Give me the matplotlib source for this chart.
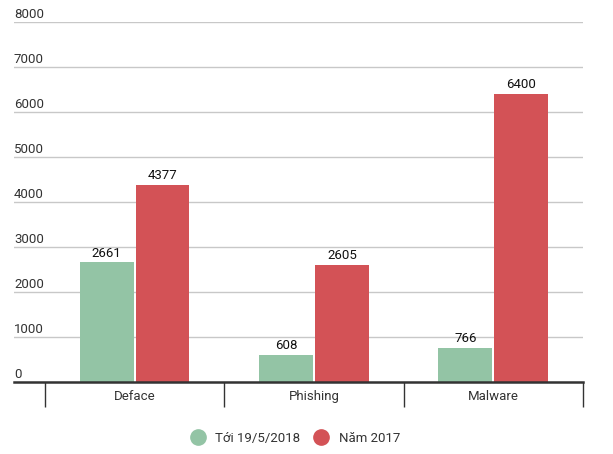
import matplotlib.pyplot as plt
import matplotlib.transforms as mtransforms
from matplotlib.lines import Line2D
import numpy as np

plt.rcParams['font.family'] = ['Roboto', 'DejaVu Sans']

# data
categories = ["Deface", "Phishing", "Malware"]
series_names = ["Tới 19/5/2018", "Năm 2017"]
values_2018 = [2661, 608, 766]
values_2017 = [4377, 2605, 6400]
yticks = [0, 1000, 2000, 3000, 4000, 5000, 6000, 7000, 8000]

green = "#93c4a5"
red = "#d35256"

fig = plt.figure(figsize=(6.13, 4.54), dpi=100)
ax = fig.add_axes([0.0228, 0.1586, 0.9282, 0.7929])

x = np.arange(len(categories))
w = 0.3
gap = 0.006
b1 = ax.bar(x - w / 2 - gap, values_2018, w, color=green, zorder=3)
b2 = ax.bar(x + w / 2 + gap, values_2017, w, color=red, zorder=3)

for bars, vals in ((b1, values_2018), (b2, values_2017)):
    for r, v in zip(bars, vals):
        ax.text(r.get_x() + r.get_width() / 2, v + 60, str(v),
                ha="center", va="bottom", fontsize=9.5, color="#111111")

# left padding before the first category
ax.set_xlim(-0.5 - 31 / 179.5, len(categories) - 0.5)
ax.set_ylim(0, 8000)

# gridlines with labels sitting on top of them
ax.set_yticks(yticks)
ax.tick_params(axis="y", length=0, labelleft=False)
ax.yaxis.grid(True, color="#c8c8c8", linewidth=1, zorder=0)
trans = mtransforms.blended_transform_factory(ax.transAxes, ax.transData)
for t in yticks:
    ax.text(0.0, t + 20, str(t), transform=trans, ha="left", va="bottom",
            fontsize=9.5, color="#333333")

# category labels and separators
ax.set_xticks(x)
ax.set_xticklabels(categories, fontsize=9.5, color="#333333")
ax.tick_params(axis="x", which="major", length=0, pad=6)
ax.set_xticks(np.arange(len(categories) + 1) - 0.5, minor=True)
ax.tick_params(axis="x", which="minor", length=18, width=1, color="#333333",
               direction="out")

for s in ["top", "right", "left"]:
    ax.spines[s].set_visible(False)
ax.spines["bottom"].set_color("#333333")
ax.spines["bottom"].set_linewidth(1.8)
ax.spines["bottom"].set_zorder(4)

handles = [Line2D([], [], marker="o", linestyle="", markersize=11,
                  markerfacecolor=c, markeredgecolor=c) for c in (green, red)]
fig.legend(handles, series_names, loc="center", bbox_to_anchor=(0.477, 0.035),
           ncol=2, frameon=False, fontsize=9.5, handletextpad=0.3,
           columnspacing=0.6, labelcolor="#333333")

fig.savefig("out.png", dpi=100)
